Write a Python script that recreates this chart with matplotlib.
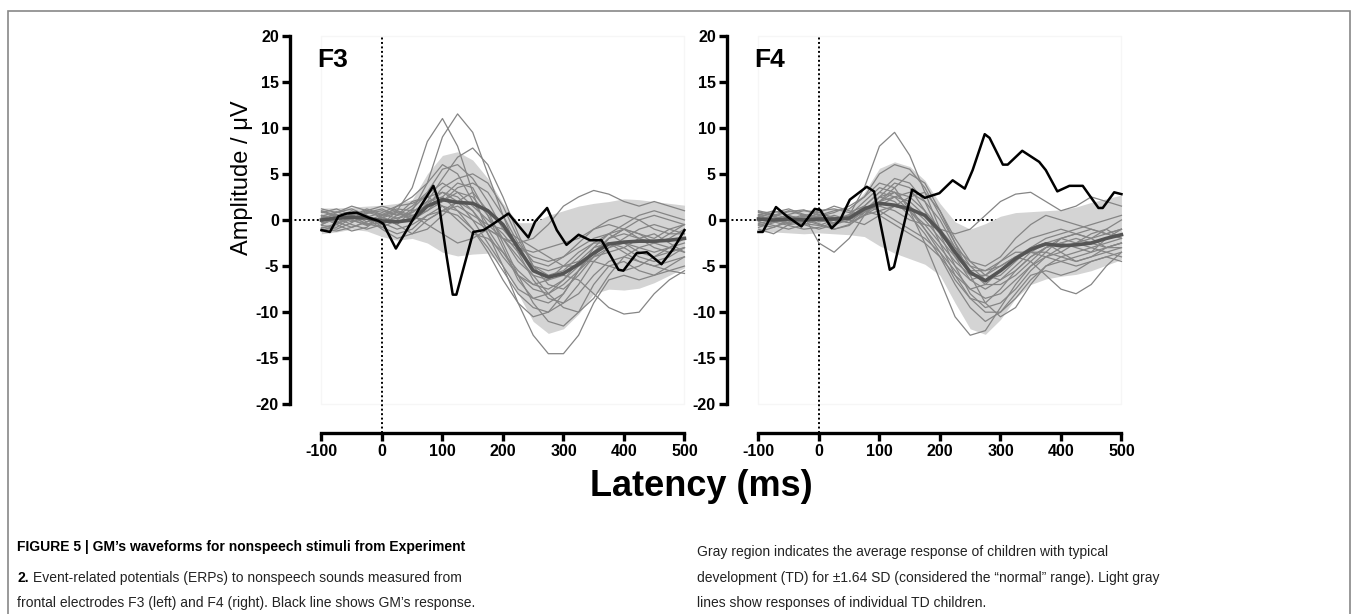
import matplotlib
matplotlib.use("Agg")
import matplotlib.pyplot as plt
from matplotlib.patches import Rectangle

plt.rcParams['font.family'] = ['Liberation Sans', 'DejaVu Sans']
plt.rcParams['axes.unicode_minus'] = False

# time grid (ms) for the TD data
t = [-100, -75, -50, -25, 0, 25, 50, 75, 100, 125, 150, 175, 200,
     225, 250, 275, 300, 325, 350, 375, 400, 425, 450, 475, 500]

# ---------------- F3 ----------------
f3_mean = [0.0, 0.2, 0.3, 0.2, -0.1, -0.2, 0.0, 1.5, 2.2, 1.9, 1.8, 1.0, -0.5,
           -3.0, -5.5, -6.2, -5.8, -4.8, -3.6, -2.6, -2.4, -2.3, -2.3, -2.2, -2.0]
f3_up = [1.3, 1.3, 1.4, 1.5, 1.6, 1.8, 2.2, 5.0, 7.0, 7.4, 6.5, 4.5, 1.8,
         -0.3, -0.3, 0.5, 1.0, 1.5, 1.8, 2.0, 2.3, 2.2, 2.0, 1.8, 1.6]
f3_lo = [-1.5, -1.3, -1.0, -1.2, -1.8, -2.2, -2.0, -2.5, -3.5, -3.9, -3.7, -3.6, -5.0,
         -8.0, -11.0, -12.3, -11.8, -10.2, -8.0, -7.5, -7.6, -7.4, -6.8, -6.0, -5.2]

f3_td = [
    [0.5, -0.3, 0.8, 0.2, -0.5, 1.0, 3.5, 8.5, 11.0, 8.0, 3.0, -1.5, -4.0, -6.0, -7.5, -8.0, -7.0, -5.5, -4.0, -3.0, -2.5, -3.0, -3.5, -3.0, -2.5],
    [-0.5, 0.2, 0.6, -0.2, 0.3, -0.5, 1.0, 4.0, 9.0, 11.5, 9.5, 5.0, 0.5, -3.5, -6.5, -8.5, -9.0, -8.0, -6.0, -4.5, -4.0, -4.5, -5.0, -4.5, -4.0],
    [1.0, 0.5, 0.0, 0.8, 1.2, 0.5, 0.8, 2.0, 4.5, 6.8, 7.8, 6.0, 2.5, -1.5, -5.0, -7.0, -7.5, -6.0, -4.0, -2.0, -1.0, -1.5, -2.0, -1.0, -0.5],
    [0.8, 1.2, 0.5, -0.5, 0.2, 1.5, 1.8, 2.5, 3.0, 2.5, 1.0, -1.5, -5.0, -9.0, -12.5, -14.5, -14.5, -12.5, -9.0, -6.5, -6.0, -6.5, -6.0, -5.5, -5.8],
    [-1.2, -0.5, 0.3, 0.5, -0.8, -1.5, -1.0, 0.5, 1.5, 1.0, 0.0, -1.0, -2.0, -2.5, -2.0, -0.5, 1.5, 2.5, 3.2, 2.8, 2.0, 1.5, 2.0, 1.5, 1.0],
    [0.3, -0.5, -1.2, -0.8, 0.5, 0.8, 0.0, 1.0, 2.0, 3.0, 2.5, 0.5, -2.0, -4.5, -6.0, -6.5, -6.0, -6.5, -8.0, -9.5, -10.2, -10.0, -8.0, -6.5, -5.5],
    [0.0, 0.8, 1.2, 0.5, -0.3, -1.0, -0.5, 0.5, 1.0, 0.5, -1.0, -3.0, -5.5, -8.0, -9.5, -10.0, -9.0, -7.0, -4.5, -3.0, -2.0, -1.0, -0.5, -1.0, -1.5],
    [-0.8, -1.0, -0.3, 0.7, 1.0, 0.5, 1.5, 3.0, 5.5, 6.0, 4.5, 2.0, -1.0, -3.0, -4.0, -4.5, -4.0, -3.0, -2.0, -1.5, -2.5, -3.5, -4.0, -3.5, -3.0],
    [0.5, 0.2, -0.5, -1.0, -0.5, 0.5, 2.0, 2.5, 1.5, 0.0, -1.5, -2.0, -3.5, -5.5, -7.0, -7.5, -6.5, -5.0, -3.5, -2.0, -1.0, 0.0, 0.5, 0.0, -0.5],
    [1.2, 0.8, 1.5, 1.0, 0.5, 1.0, 0.5, -0.5, -1.5, -2.5, -2.0, -1.0, -2.0, -4.0, -6.0, -8.0, -9.5, -10.0, -8.5, -6.0, -4.0, -3.0, -2.5, -2.0, -1.0],
    [-0.3, 0.0, 0.5, 1.0, 1.5, 1.0, 0.0, 1.5, 3.5, 4.5, 5.0, 4.0, 1.5, -2.0, -5.0, -6.0, -5.5, -4.0, -2.5, -1.5, -1.0, -1.5, -2.5, -3.0, -3.5],
    [-1.0, -1.2, -0.8, -0.2, 0.3, -0.5, -1.5, -1.0, 0.5, 2.0, 3.0, 1.0, -2.5, -6.0, -9.0, -11.0, -11.5, -10.0, -7.0, -5.0, -4.5, -5.5, -6.0, -5.0, -4.0],
    [0.2, 0.6, 0.0, -0.6, -0.2, 0.2, 0.5, 1.0, 2.5, 4.0, 3.5, 0.5, -3.0, -6.5, -8.5, -9.0, -8.0, -5.5, -3.0, -1.5, -0.5, 0.5, 1.0, 0.5, 0.0],
    [-0.5, 0.3, 1.0, 0.2, -1.0, -2.0, -1.5, 0.0, 1.0, 1.5, 0.5, -0.5, -1.0, -2.0, -3.0, -4.0, -5.0, -5.0, -4.0, -3.5, -3.0, -2.0, -1.5, -2.5, -3.5],
    [0.9, 0.4, -0.2, 0.3, 0.8, 1.5, 2.5, 4.0, 6.0, 5.0, 2.0, -0.5, -2.0, -3.0, -3.5, -3.0, -2.5, -2.0, -1.0, -0.5, -1.0, -2.0, -2.5, -1.5, -0.5],
    [-0.6, -0.8, 0.2, 0.9, 0.3, -0.3, 0.3, 1.8, 3.0, 2.0, 0.0, -2.5, -5.0, -7.5, -8.5, -8.0, -6.5, -4.5, -3.0, -2.5, -3.0, -4.0, -4.5, -4.0, -3.0],
    [0.4, 0.9, 0.3, -0.4, -0.8, 0.0, 1.2, 2.8, 4.0, 3.0, 1.5, 0.0, -1.5, -3.5, -5.0, -5.5, -5.0, -4.5, -4.5, -5.0, -5.5, -5.0, -4.0, -3.0, -2.0],
    [-0.9, -0.4, 0.4, 1.2, 0.6, 0.2, 0.8, 2.0, 2.5, 1.0, -1.0, -3.5, -6.5, -9.0, -10.5, -10.0, -8.0, -5.5, -3.5, -2.0, -1.5, -2.0, -3.0, -3.5, -3.0],
    [0.2, -0.2, -0.8, -0.2, 0.6, 1.2, 1.0, 1.5, 2.0, 3.5, 4.0, 3.0, 0.5, -2.5, -4.5, -5.0, -4.0, -2.5, -1.0, 0.0, 0.5, 0.0, -1.0, -1.5, -1.5],
    [-0.2, 0.5, 0.0, -0.5, 0.2, 0.8, 0.3, 0.0, 1.0, 2.0, 1.0, -1.0, -3.5, -6.0, -7.0, -6.5, -5.0, -3.5, -2.5, -2.5, -3.5, -4.5, -5.0, -5.5, -5.0],
]

# GM's response at F3
gm3_t = [-100, -86, -72, -58, -42, -20, -6, 2, 23, 41, 63, 85, 93, 107, 117, 123,
         151, 168, 180, 209, 242, 253, 273, 289, 305, 325, 344, 363, 391, 399,
         421, 438, 462, 482, 500]
gm3_v = [-1.1, -1.3, 0.4, 0.7, 0.8, 0.2, -0.1, -0.4, -3.1, -1.1, 1.4, 3.7, 2.2, -4.0, -8.1, -8.1,
         -1.3, -1.1, -0.6, 0.7, -1.9, -0.2, 1.3, -1.1, -2.7, -1.6, -2.2, -2.2, -5.4, -5.5,
         -3.6, -3.5, -4.8, -3.1, -1.1]

# ---------------- F4 ----------------
f4_mean = [0.1, 0.0, 0.1, 0.0, 0.1, 0.1, 0.2, 1.2, 1.8, 1.6, 1.2, 0.5, -1.2,
           -3.5, -5.7, -6.6, -5.5, -4.2, -3.2, -2.6, -2.8, -2.7, -2.5, -2.0, -1.6]
f4_up = [1.0, 1.0, 1.1, 1.1, 1.2, 1.3, 1.2, 3.0, 5.6, 6.3, 5.8, 4.3, 1.8,
         -0.2, -1.0, -0.4, 0.4, 0.8, 0.9, 1.0, 1.1, 1.4, 1.9, 2.3, 2.7]
f4_lo = [-1.3, -1.3, -1.4, -1.5, -1.4, -1.5, -1.6, -1.8, -2.8, -3.6, -4.2, -4.8, -6.0,
         -9.0, -11.8, -12.4, -10.8, -8.5, -7.0, -6.4, -6.1, -5.9, -5.5, -4.9, -4.3]

f4_td = [
    [0.5, 0.0, -0.3, 0.5, 0.2, -0.5, 0.5, 3.5, 8.0, 9.5, 7.0, 3.0, -1.0, -4.0, -6.5, -7.5, -6.5, -5.0, -3.5, -2.5, -2.0, -2.5, -3.0, -2.5, -2.0],
    [-0.5, -0.8, 0.0, 0.6, 0.3, 0.0, -0.3, 0.5, 1.5, 1.0, 0.0, -0.5, -1.0, -1.5, -1.0, 0.5, 2.0, 2.8, 3.0, 2.0, 1.0, 1.5, 2.5, 2.0, 1.5],
    [0.8, 0.5, -0.5, -0.3, 0.5, 1.0, 1.2, 2.5, 4.0, 3.5, 1.0, -2.5, -6.5, -10.5, -12.5, -12.0, -9.5, -7.0, -5.0, -4.0, -4.5, -5.0, -4.5, -4.0, -3.5],
    [-1.0, -1.5, -0.5, 0.5, -2.5, -3.5, -2.0, 0.5, 2.5, 3.0, 1.5, -1.0, -3.0, -5.0, -6.5, -6.0, -4.5, -3.0, -2.0, -1.5, -1.0, -1.5, -2.0, -1.0, 0.0],
    [0.3, 0.8, 1.2, 0.6, -0.2, 0.0, 0.3, 1.0, 2.0, 2.5, 2.0, 0.5, -1.5, -3.5, -5.0, -5.5, -5.0, -4.0, -4.5, -6.0, -7.5, -8.0, -7.0, -5.0, -3.5],
    [0.0, 0.4, 0.9, 1.1, 0.5, -0.5, 0.0, 1.5, 3.0, 4.5, 4.0, 2.0, -1.5, -5.0, -8.0, -9.5, -9.0, -7.5, -5.5, -4.0, -3.0, -2.5, -2.0, -1.5, -1.0],
    [-0.8, -0.3, 0.3, -0.5, -1.0, -0.5, 0.5, 1.0, 0.5, -0.5, -1.5, -2.5, -4.0, -6.0, -7.5, -7.0, -5.5, -4.0, -3.0, -2.5, -3.5, -4.5, -4.0, -3.0, -2.5],
    [1.0, 0.6, 0.2, -0.2, 0.4, 0.8, 1.5, 2.5, 5.0, 6.0, 5.5, 3.5, 0.5, -2.5, -5.0, -6.5, -6.0, -4.5, -3.0, -2.0, -1.5, -1.0, -0.5, 0.0, 0.5],
    [-0.2, -0.6, -1.0, -0.5, 0.0, 0.5, 0.0, -0.5, 0.5, 1.5, 2.5, 3.0, 1.0, -2.5, -6.0, -9.0, -10.5, -9.5, -7.0, -5.0, -4.0, -3.5, -3.0, -3.5, -4.0],
    [0.5, 1.0, 0.5, 0.0, -0.5, -1.0, -0.5, 0.5, 2.0, 3.0, 2.5, 1.0, -1.0, -3.0, -4.5, -5.0, -4.0, -2.0, -0.5, 0.5, 0.0, -0.5, -1.0, -1.5, -1.0],
    [-0.4, 0.0, 0.6, 1.0, 0.8, 0.2, -0.3, 1.0, 2.5, 2.0, 0.5, -1.5, -4.0, -7.0, -9.5, -11.0, -10.0, -8.0, -6.0, -5.5, -6.0, -5.5, -4.5, -4.0, -4.5],
    [0.2, -0.2, -0.6, -1.0, -0.8, -0.3, 0.5, 2.0, 3.5, 3.0, 1.5, 0.0, -2.0, -4.0, -5.5, -5.5, -4.5, -3.5, -3.5, -4.0, -3.5, -2.5, -1.5, -1.0, -2.0],
    [-1.3, -0.8, -0.2, 0.4, 1.0, 1.2, 0.8, 1.5, 1.0, 0.0, -1.0, -2.0, -3.5, -5.5, -7.5, -8.5, -8.0, -6.5, -5.0, -3.5, -2.0, -1.5, -2.0, -3.0, -2.5],
    [0.6, 0.3, 0.0, 0.3, 0.6, 0.3, 0.0, 0.8, 2.0, 3.5, 5.0, 4.0, 1.0, -2.0, -4.5, -6.0, -6.5, -5.5, -4.0, -3.0, -2.5, -3.0, -3.5, -2.0, -1.0],
    [-0.6, -0.2, 0.4, 0.2, -0.4, -1.0, -0.6, 0.8, 2.5, 4.0, 3.5, 1.0, -2.5, -6.0, -8.5, -10.0, -10.0, -8.5, -6.5, -5.0, -4.5, -4.0, -3.5, -3.0, -2.5],
    [0.4, 0.0, -0.4, 0.0, 0.8, 1.5, 1.0, 0.5, 1.0, 1.5, 1.0, -0.5, -2.5, -4.5, -6.0, -6.0, -5.0, -4.0, -3.5, -3.5, -4.0, -4.5, -4.0, -3.5, -3.0],
    [-0.2, 0.5, 1.0, 0.5, 0.0, -0.3, 0.3, 1.5, 3.0, 2.5, 1.0, -1.0, -3.5, -6.5, -8.5, -9.0, -7.5, -5.5, -4.0, -3.0, -2.5, -2.0, -2.5, -3.0, -3.0],
    [0.9, 0.4, 0.0, -0.4, -0.6, 0.0, 0.6, 1.0, 1.5, 2.5, 3.0, 2.0, 0.0, -3.0, -5.5, -7.0, -7.0, -6.0, -4.5, -3.0, -2.0, -1.5, -1.0, -1.5, -2.0],
]

# GM's response at F4
gm4_t = [-100, -93, -71, -53, -29, -7, 2, 21, 35, 51, 79, 91, 117, 124, 154, 175,
         199, 221, 241, 254, 274, 282, 304, 312, 336, 364, 375, 394, 414, 436,
         462, 469, 488, 500]
gm4_v = [-1.3, -1.3, 1.4, 0.4, -0.7, 1.2, 1.1, -0.9, 0.0, 2.2, 3.6, 3.1, -5.4, -5.1, 3.3, 2.4,
         2.9, 4.3, 3.4, 5.4, 9.3, 8.9, 6.0, 6.0, 7.5, 6.3, 5.4, 3.1, 3.7, 3.7,
         1.3, 1.3, 3.0, 2.8]

panels = [
    ("F3", f3_mean, f3_up, f3_lo, f3_td, gm3_t, gm3_v),
    ("F4", f4_mean, f4_up, f4_lo, f4_td, gm4_t, gm4_v),
]

W, H = 1357, 614
fig = plt.figure(figsize=(W / 100, H / 100), dpi=100)

ax_left_px = [290, 727]
x_lo, x_hi = -152, 510
y_lo, y_hi = -23.1, 20.5
for k, (name, mean, up, lo, td, gt, gv) in enumerate(panels):
    px0 = ax_left_px[k]
    ax = fig.add_axes([px0 / W, 1 - 433 / H, 400.5 / W, 402.1 / H])
    ax.set_xlim(x_lo, x_hi)
    ax.set_ylim(y_lo, y_hi)

    # faint frame of the data region
    ax.add_patch(Rectangle((-100, -20), 600, 40, fill=False, ec='#f6f6f6', lw=1, zorder=0))
    # zero lines
    ax.plot([x_lo, 500], [0, 0], color='black', ls=(0, (1, 1.3)), lw=1.4, zorder=0.5)
    ax.plot([0, 0], [y_lo, 20], color='black', ls=(0, (1, 1.3)), lw=1.4, zorder=0.5)

    ax.fill_between(t, lo, up, color='#d4d4d4', lw=0, zorder=1)
    for ln in td:
        ax.plot(t, ln, color='#858585', lw=0.9, zorder=2)
    ax.plot(t, mean, color='#555555', lw=2.6, zorder=3)
    ax.plot(gt, gv, color='black', lw=1.8, zorder=4)

    ax.text(-107, 17.3, name, fontsize=19, fontweight='bold', va='center', ha='left')

    for s in ['top', 'right']:
        ax.spines[s].set_visible(False)
    ax.spines['left'].set_bounds(-20, 20)
    ax.spines['bottom'].set_bounds(-100, 500)
    ax.spines['left'].set_linewidth(2.4)
    ax.spines['bottom'].set_linewidth(2.4)
    ax.set_yticks(range(-20, 21, 5))
    ax.set_xticks(range(-100, 501, 100))
    ax.tick_params(width=2.4, length=6, labelsize=11.5, pad=2)
    for lab in ax.get_xticklabels() + ax.get_yticklabels():
        lab.set_fontweight('bold')
    ax.patch.set_alpha(0)

fig.text(242 / W, 1 - 178 / H, "Amplitude / \u03bcV", rotation=90, fontsize=17,
         ha='center', va='center')
fig.text(701 / W, 1 - 487 / H, "Latency (ms)", fontsize=26, fontweight='bold',
         ha='center', va='center')

# outer border of the figure box
fig.patches.append(Rectangle((8 / W, -0.05), 1342 / W, 1.05 - 11 / H, transform=fig.transFigure,
                             fill=False, ec='#888888', lw=1.2))

fs = 10
fig.text(17 / W, 1 - 547 / H, "FIGURE 5 | GM\u2019s waveforms for nonspeech stimuli from Experiment",
         fontsize=fs, fontweight='bold', va='center')
fig.text(17 / W, 1 - 578 / H, "2.", fontsize=fs, fontweight='bold', va='center')
fig.text(33 / W, 1 - 578 / H, "Event-related potentials (ERPs) to nonspeech sounds measured from",
         fontsize=fs, va='center', color='#222222')
fig.text(17 / W, 1 - 603 / H, "frontal electrodes F3 (left) and F4 (right). Black line shows GM\u2019s response.",
         fontsize=fs, va='center', color='#222222')
fig.text(697 / W, 1 - 552 / H, "Gray region indicates the average response of children with typical",
         fontsize=fs, va='center', color='#222222')
fig.text(697 / W, 1 - 578 / H, "development (TD) for \u00b11.64 SD (considered the \u201cnormal\u201d range). Light gray",
         fontsize=fs, va='center', color='#222222')
fig.text(697 / W, 1 - 603 / H, "lines show responses of individual TD children.",
         fontsize=fs, va='center', color='#222222')

fig.savefig("out.png", dpi=100)
